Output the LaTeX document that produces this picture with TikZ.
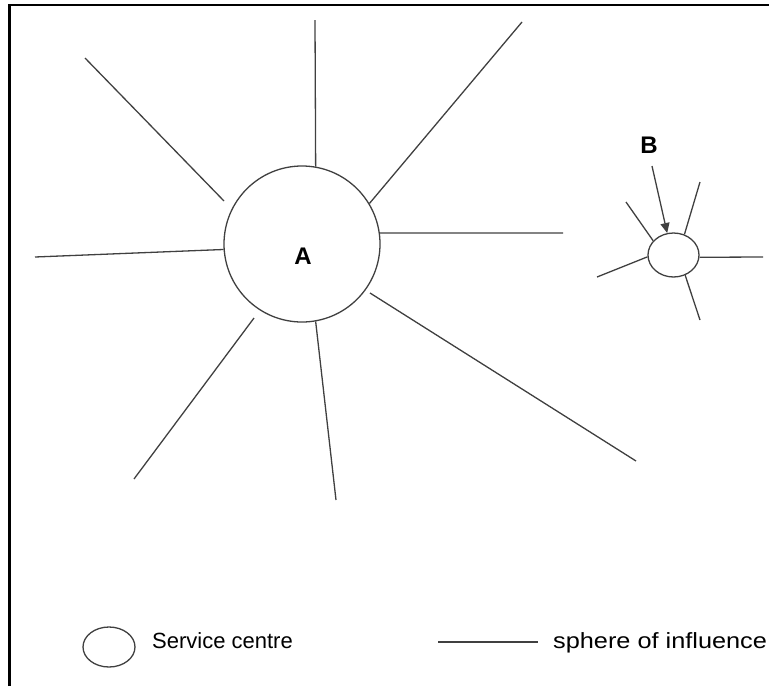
\documentclass[tikz,border=0pt]{standalone}
\usepackage{fontspec}
\setmainfont{Liberation Sans}
\usetikzlibrary{arrows.meta,shapes.geometric}

\begin{document}
\begin{tikzpicture}[x=1pt, y=-1pt,
	ray/.style={draw=black!75, line width=1.3pt},
	centre/.style={draw=black!75, line width=1.3pt, ellipse, inner sep=0pt},
	letter/.style={font=\fontsize{24}{24}\selectfont\bfseries, inner sep=0pt},
	legtext/.style={font=\fontsize{22}{26}\selectfont, inner sep=0pt, anchor=base west}]
	\useasboundingbox (0,0) rectangle (769,686);
	\draw[line width=2.6pt] (9.5,686) -- (9.5,5) -- (769,5);

	% large service centre
	\node[centre, minimum width=156pt, minimum height=156pt](A) at (302,244){};
	\node[letter](AL) at (303,256){A};

	\coordinate (A1) at (315,20);
	\coordinate (A2) at (522,22);
	\coordinate (A3) at (563,233);
	\coordinate (A4s) at (370,293);
	\coordinate (A4) at (636,461);
	\coordinate (A5) at (336,500);
	\coordinate (A6s) at (254,318);
	\coordinate (A6) at (134,479);
	\coordinate (A7) at (35,257);
	\coordinate (A8s) at (224,201);
	\coordinate (A8) at (85,58);

	\draw[ray] (A.80.5) -- (A1);
	\draw[ray] (A.31) -- (A2);
	\draw[ray] (A.8) -- (A3);
	\draw[ray] (A4s) -- (A4);
	\draw[ray] (A.-80) -- (A5);
	\draw[ray] (A6s) -- (A6);
	\draw[ray] (A.184) -- (A7);
	\draw[ray] (A8s) -- (A8);

	% small service centre
	\node[centre, minimum width=51pt, minimum height=44pt](B) at (673.5,255){};
	\node[letter](BL) at (649,145){B};

	\coordinate (B1) at (700,182);
	\coordinate (B2) at (626,202);
	\coordinate (B3) at (597,277);
	\coordinate (B4) at (763,257);
	\coordinate (B5) at (700,320);
	\coordinate (Bin) at (652,166);

	\draw[ray] (B.62) -- (B1);
	\draw[ray] (B.145) -- (B2);
	\draw[ray] (B.184.5) -- (B3);
	\draw[ray] (B.355) -- (B4);
	\draw[ray] (B.-60) -- (B5);
	\draw[ray, -{Triangle[length=10pt,width=9pt]}] (Bin) -- (B.106);

	% legend
	\node[centre, minimum width=52pt, minimum height=40pt](LEG1) at (109,647){};
	\node[legtext](TXT1) at (152,648){Service centre};
	\coordinate (LEG2a) at (438,642);
	\coordinate (LEG2b) at (538,642);
	\draw[ray] (LEG2a) -- (LEG2b);
	\node[legtext](TXT2) at (553,648){\scalebox{1.15}[1]{sphere of influence}};
\end{tikzpicture}
\end{document}
